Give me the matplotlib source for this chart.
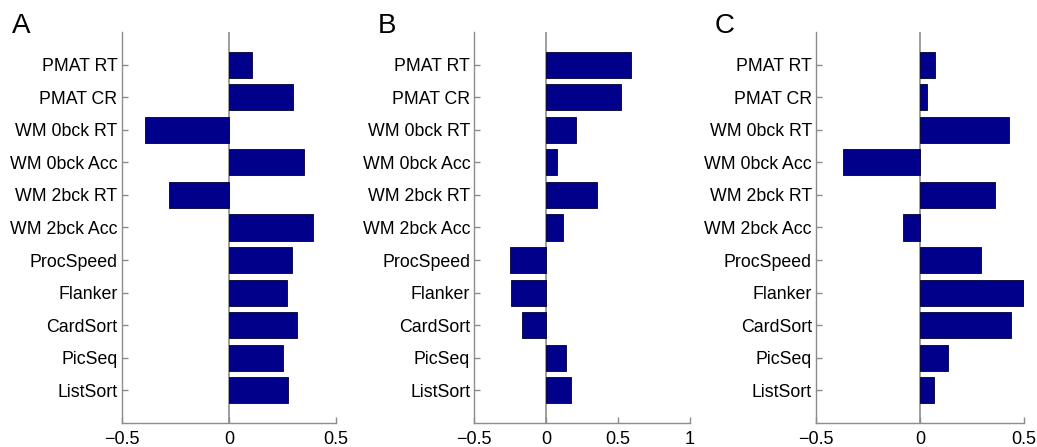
import matplotlib.pyplot as plt
import numpy as np

plt.rcParams['font.family'] = ['Liberation Sans', 'DejaVu Sans']

LABELS = ['PMAT RT', 'PMAT CR', 'WM 0bck RT', 'WM 0bck Acc', 'WM 2bck RT',
          'WM 2bck Acc', 'ProcSpeed', 'Flanker', 'CardSort', 'PicSeq', 'ListSort']

VALUES_A = [0.109, 0.30, -0.39, 0.35, -0.277, 0.393, 0.297, 0.272, 0.32, 0.255, 0.274]
VALUES_B = [0.59, 0.517, 0.209, 0.072, 0.353, 0.118, -0.25, -0.246, -0.167, 0.137, 0.172]
VALUES_C = [0.072, 0.032, 0.428, -0.37, 0.359, -0.083, 0.292, 0.5, 0.439, 0.133, 0.067]

PANELS = ['A', 'B', 'C']
XLIMS = [(-0.5, 0.5), (-0.5, 1.0), (-0.5, 0.5)]
XTICKS = [[-0.5, 0, 0.5], [-0.5, 0, 0.5, 1], [-0.5, 0, 0.5]]
XTICKLABELS = [['\u22120.5', '0', '0.5'], ['\u22120.5', '0', '0.5', '1'], ['\u22120.5', '0', '0.5']]

# axes placement in pixels (left, right)
W, H = 1037, 447
AX_X = [(121.7, 336.0), (474.3, 690.0), (816.0, 1024.0)]
AX_TOP, AX_BOT = 32, 423
LETTER_X = [12, 378, 715]

BAR_COLOR = '#00008b'
GREY = '#8c8c8c'

fig = plt.figure(figsize=(W / 100, H / 100), dpi=100)

for i, vals in enumerate([VALUES_A, VALUES_B, VALUES_C]):
    x0, x1 = AX_X[i]
    ax = fig.add_axes([x0 / W, (H - AX_BOT) / H, (x1 - x0) / W, (AX_BOT - AX_TOP) / H])
    pos = np.arange(1, len(LABELS) + 1)
    ax.barh(pos, vals, height=0.8, color=BAR_COLOR, edgecolor='#000033', linewidth=0.6, zorder=3)
    ax.axvline(0, color=GREY, lw=1.2, zorder=2)
    ax.set_ylim(12, 0)
    ax.set_xlim(*XLIMS[i])
    ax.set_yticks(pos)
    ax.set_yticklabels(LABELS, fontsize=12.8)
    ax.set_xticks(XTICKS[i])
    ax.set_xticklabels(XTICKLABELS[i], fontsize=13)
    for s in ['top', 'right']:
        ax.spines[s].set_visible(False)
    for s in ['left', 'bottom']:
        ax.spines[s].set_color(GREY)
        ax.spines[s].set_linewidth(1.0)
    ax.tick_params(direction='in', length=4, color=GREY, width=1.0, pad=3)
    ax.tick_params(axis='x', pad=6)
    fig.text(LETTER_X[i] / W, 1 - 26 / H, PANELS[i], fontsize=20, va='center', ha='left')

fig.savefig('out.png', dpi=100)
